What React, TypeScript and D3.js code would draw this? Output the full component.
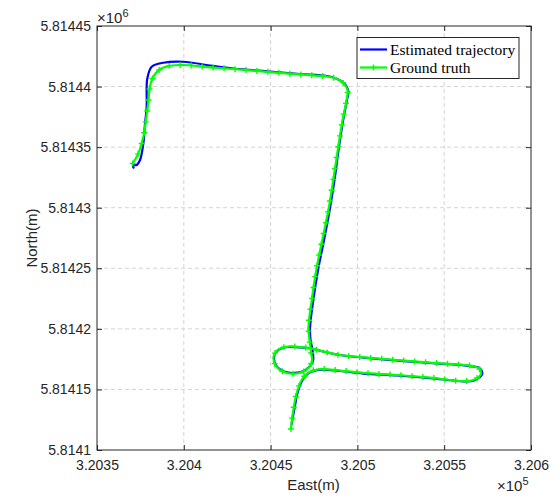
import { useEffect, useRef } from "react";
import * as d3 from "d3";

// Ground truth (East, North in metres)
const gtEast = [
  320461.7, 320463.1, 320465.0, 320467.9, 320471.7, 320477.5, 320490.0, 320503.4, 320522.6, 320541.8,
  320561.0, 320566.8, 320571.2, 320570.0, 320564.9, 320541.8, 320522.6, 320503.4, 320490.0, 320478.4,
  320473.7, 320466.9, 320460.0, 320454.3, 320451.7, 320453.1, 320457.7, 320464.0, 320470.4, 320473.8,
  320473.3, 320472.4, 320471.8, 320473.7, 320476.5, 320479.4, 320483.2, 320486.1, 320489.0, 320491.7,
  320493.8, 320494.3, 320491.9, 320487.7, 320482.3, 320466.9, 320449.6, 320428.5, 320415.1, 320399.7,
  320392.0, 320386.3, 320382.4, 320380.5, 320379.5, 320378.2, 320376.7, 320373.8, 320370.0,
];
const gtNorth = [
  5814117.3, 5814133.0, 5814146.8, 5814157.8, 5814163.8, 5814166.6, 5814165.6, 5814163.6, 5814161.9, 5814159.7,
  5814156.9, 5814157.8, 5814162.7, 5814167.3, 5814169.6, 5814172.1, 5814174.3, 5814176.5, 5814178.4, 5814182.0,
  5814183.9, 5814185.0, 5814185.4, 5814182.9, 5814176.8, 5814169.3, 5814164.4, 5814163.1, 5814166.0, 5814172.6,
  5814180.9, 5814190.8, 5814200.7, 5814223.8, 5814250.0, 5814270.6, 5814297.3, 5814322.9, 5814350.4, 5814374.1,
  5814388.9, 5814397.2, 5814402.9, 5814406.7, 5814408.3, 5814410.0, 5814412.0, 5814414.5, 5814415.9, 5814417.8,
  5814417.2, 5814414.3, 5814408.1, 5814399.9, 5814386.2, 5814372.4, 5814358.6, 5814344.9, 5814335.3,
];

// Estimated trajectory
const estEast = [
  320462.0, 320463.8, 320465.5, 320468.4, 320472.1, 320477.5, 320490.0, 320503.4, 320522.6, 320541.8,
  320561.0, 320567.2, 320571.9, 320570.6, 320564.9, 320541.8, 320522.6, 320503.4, 320490.0, 320478.4,
  320473.8, 320466.9, 320460.0, 320454.3, 320452.0, 320453.4, 320457.7, 320464.0, 320470.4, 320474.4,
  320474.1, 320473.0, 320472.7, 320474.6, 320477.5, 320480.4, 320483.9, 320486.8, 320489.4, 320492.0,
  320494.0, 320494.8, 320492.3, 320487.7, 320482.3, 320466.9, 320449.6, 320428.5, 320415.1, 320399.7,
  320388.2, 320381.5, 320379.0, 320378.6, 320378.6, 320377.6, 320376.7, 320374.8, 320372.9, 320370.7,
  320371.3,
];
const estNorth = [
  5814120.6, 5814134.7, 5814147.0, 5814157.8, 5814163.6, 5814166.2, 5814165.2, 5814163.1, 5814161.5, 5814159.4,
  5814156.7, 5814157.4, 5814162.7, 5814167.3, 5814169.3, 5814171.8, 5814173.9, 5814176.3, 5814178.4, 5814182.0,
  5814183.8, 5814184.6, 5814185.0, 5814182.5, 5814176.8, 5814169.3, 5814164.8, 5814163.6, 5814166.4, 5814173.5,
  5814182.5, 5814190.8, 5814200.7, 5814223.8, 5814250.0, 5814270.6, 5814297.3, 5814322.9, 5814350.4, 5814374.1,
  5814388.9, 5814396.3, 5814402.9, 5814406.7, 5814408.7, 5814410.4, 5814412.4, 5814414.9, 5814417.4, 5814420.5,
  5814419.7, 5814416.4, 5814406.8, 5814399.9, 5814383.4, 5814368.3, 5814353.2, 5814339.4, 5814335.3, 5814334.8,
  5814332.4,
];

const xTickValues = [320350, 320400, 320450, 320500, 320550, 320600];
const yTickValues = [5814100, 5814150, 5814200, 5814250, 5814300, 5814350, 5814400, 5814450];
const seriesNames = ["Estimated trajectory", "Ground truth"];
const seriesColors = ["#0000ff", "#00ff00"];

const App = () => {
  const svgRef = useRef<SVGSVGElement>(null);

  useEffect(() => {
    const svg = d3.select(svgRef.current);
    svg.selectAll("*").remove();

    const left = 97, right = 531, top = 26, bottom = 450;
    const axisColor = "#262626";
    const sans = "'Liberation Sans', Arial, sans-serif";
    const serif = "'Liberation Serif', 'Times New Roman', serif";

    const x = d3.scaleLinear().domain([320350, 320600]).range([left, right]);
    const y = d3.scaleLinear().domain([5814100, 5814450]).range([bottom, top]);

    svg.append("rect").attr("width", 560).attr("height", 496).attr("fill", "#fff");

    // grid
    const grid = svg.append("g").attr("stroke", "#d4d4d4").attr("stroke-dasharray", "4,3").attr("stroke-width", 1);
    grid.selectAll(".gx").data(xTickValues.slice(1, -1)).join("line")
      .attr("class", "gx")
      .attr("x1", d => x(d)).attr("x2", d => x(d)).attr("y1", top).attr("y2", bottom);
    grid.selectAll(".gy").data(yTickValues.slice(1, -1)).join("line")
      .attr("class", "gy")
      .attr("y1", d => y(d)).attr("y2", d => y(d)).attr("x1", left).attr("x2", right);

    // axes
    const fmtX = (d: d3.NumberValue) => String(+((d as number) / 1e5).toFixed(6));
    const fmtY = (d: d3.NumberValue) => String(+((d as number) / 1e6).toFixed(6));

    const styleAxis = (g: d3.Selection<SVGGElement, unknown, null, undefined>) => {
      g.select(".domain").remove();
      g.selectAll("line").attr("stroke", axisColor);
      g.selectAll("text").attr("fill", axisColor).attr("font-family", sans).attr("font-size", 14);
    };

    svg.append("g").attr("transform", `translate(0,${bottom})`)
      .call(d3.axisBottom(x).tickValues(xTickValues).tickSize(-5).tickPadding(10).tickFormat(fmtX))
      .call(styleAxis);
    svg.append("g").attr("transform", `translate(0,${top})`)
      .call(d3.axisTop(x).tickValues(xTickValues).tickSize(-5).tickFormat(() => ""))
      .call(styleAxis);
    svg.append("g").attr("transform", `translate(${left},0)`)
      .call(d3.axisLeft(y).tickValues(yTickValues).tickSize(-5).tickPadding(6).tickFormat(fmtY))
      .call(styleAxis);
    svg.append("g").attr("transform", `translate(${right},0)`)
      .call(d3.axisRight(y).tickValues(yTickValues).tickSize(-5).tickFormat(() => ""))
      .call(styleAxis);

    svg.append("rect")
      .attr("x", left).attr("y", top).attr("width", right - left).attr("height", bottom - top)
      .attr("fill", "none").attr("stroke", axisColor).attr("stroke-width", 1);

    // exponent labels
    const e1 = svg.append("text").attr("x", left).attr("y", 23)
      .attr("font-family", sans).attr("font-size", 15).attr("fill", axisColor).text("×10");
    e1.append("tspan").attr("dy", -6).attr("font-size", 11).text("6");
    const e2 = svg.append("text").attr("x", 497).attr("y", 491)
      .attr("font-family", sans).attr("font-size", 15).attr("fill", axisColor).text("×10");
    e2.append("tspan").attr("dy", -6).attr("font-size", 11).text("5");

    // axis titles
    svg.append("text").attr("x", (left + right) / 2 - 0.5).attr("y", 490)
      .attr("text-anchor", "middle").attr("font-family", sans).attr("font-size", 15)
      .attr("fill", axisColor).text("East(m)");
    svg.append("text").attr("transform", `translate(37,${(top + bottom) / 2}) rotate(-90)`)
      .attr("text-anchor", "middle").attr("font-family", sans).attr("font-size", 15)
      .attr("fill", axisColor).text("North(m)");

    // trajectories
    const est = estEast.map((e, i) => [e, estNorth[i]] as [number, number]);
    const gt = gtEast.map((e, i) => [e, gtNorth[i]] as [number, number]);
    const pathGen = d3.line<[number, number]>()
      .x(d => x(d[0])).y(d => y(d[1]))
      .curve(d3.curveCatmullRom.alpha(0.5));

    svg.append("path").datum(est).attr("d", pathGen)
      .attr("fill", "none").attr("stroke", seriesColors[0]).attr("stroke-width", 2.2)
      .attr("stroke-linejoin", "round");
    const gtPath = svg.append("path").datum(gt).attr("d", pathGen)
      .attr("fill", "none").attr("stroke", seriesColors[1]).attr("stroke-width", 2.2)
      .attr("stroke-linejoin", "round");

    // '+' markers along ground truth
    const node = gtPath.node() as SVGPathElement;
    const total = node.getTotalLength();
    const step = 11;
    const marks: DOMPoint[] = [];
    for (let s = 0; s <= total; s += step) marks.push(node.getPointAtLength(s));
    svg.append("g").selectAll("path").data(marks).join("path")
      .attr("d", p => `M${p.x - 3},${p.y}h6M${p.x},${p.y - 3}v6`)
      .attr("stroke", seriesColors[1]).attr("stroke-width", 1.4);

    // legend
    const lg = svg.append("g");
    lg.append("rect").attr("x", 357).attr("y", 37.5).attr("width", 162).attr("height", 41)
      .attr("fill", "#fff").attr("stroke", axisColor).attr("stroke-width", 1);
    const rowY = [49.5, 67.5];
    seriesNames.forEach((name, i) => {
      lg.append("line").attr("x1", 360).attr("x2", 387).attr("y1", rowY[i]).attr("y2", rowY[i])
        .attr("stroke", seriesColors[i]).attr("stroke-width", 2.2);
      if (i === 1) {
        lg.append("path").attr("d", `M370.5,${rowY[i]}h6M373.5,${rowY[i] - 3}v6`)
          .attr("stroke", seriesColors[i]).attr("stroke-width", 1.4);
      }
      lg.append("text").attr("x", 390).attr("y", rowY[i] + 5)
        .attr("font-family", serif).attr("font-size", 15.5).attr("fill", "#000").text(name);
    });
  }, []);

  return (
    <svg
      ref={svgRef}
      width={560}
      height={496}
      style={{ position: "absolute", left: 0, top: 0 }}
    />
  );
};

export default App;
